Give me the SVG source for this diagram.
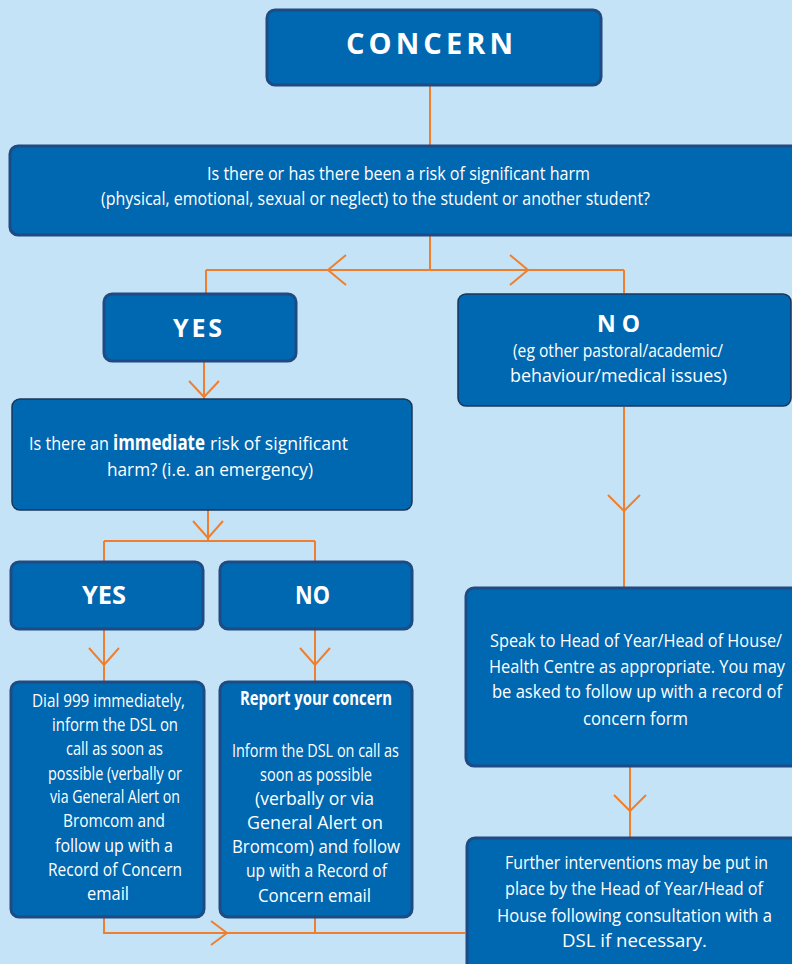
<svg xmlns="http://www.w3.org/2000/svg" width="792" height="964" viewBox="0 0 792 964">
<defs>
<style>
.box{fill:#0067B1;stroke:#1F4B85;stroke-width:3}
.thin{fill:#0067B1;stroke:#1C3658;stroke-width:1.5}
.t{font-family:"Open Sans","Liberation Sans",sans-serif;fill:#FFFFFF;font-size:19px}
.h{font-family:"Open Sans","Liberation Sans",sans-serif;fill:#FFFFFF;font-weight:bold}
.c{fill:none;stroke:#F07F2D;stroke-width:2}
</style>
</defs>
<rect x="0" y="0" width="792" height="964" fill="#C5E3F6"/>
<g id="connectors" class="c">
<path d="M430 86V145"/>
<path d="M430 236V270M206 270H624M206 270V293M624 270V293"/>
<path d="M346 255L328 270L346 285M510 255L528 270L510 285"/>
<path d="M204 362V399M189 381L204 397L219 381"/>
<path d="M208 510V541M193 521L208 538L223 521M104 541H315M104 541V561M315 541V561"/>
<path d="M104 629V681M89 648L104 665L119 648"/>
<path d="M315 629V681M300 648L315 665L330 648"/>
<path d="M104 918V933H465M315 918V933M211 921L227 933L211 945"/>
<path d="M624 407V587M608 495L624 511L640 495"/>
<path d="M630 767V837M614 795L630 811L646 795"/>
</g>
<g id="concern">
<rect class="box" x="267" y="10" width="334" height="75" rx="8"/>
<text class="h" x="346" y="54" font-size="29" textLength="167" lengthAdjust="spacing">CONCERN</text>
</g>
<g id="question">
<rect class="box" x="10" y="146" width="800" height="89" rx="8"/>
<text class="t" x="207" y="180" font-size="21" textLength="383" lengthAdjust="spacingAndGlyphs">Is there or has there been a risk of significant harm</text>
<text class="t" x="101" y="205" font-size="21" textLength="549" lengthAdjust="spacingAndGlyphs">(physical, emotional, sexual or neglect) to the student or another student?</text>
</g>
<g id="yes1">
<rect class="box" x="104" y="294" width="192" height="67" rx="8"/>
<text class="h" x="173" y="337" font-size="25" textLength="49" lengthAdjust="spacing">YES</text>
</g>
<g id="no1">
<rect class="thin" x="458" y="294" width="333" height="112" rx="8"/>
<text class="h" x="597" y="332" font-size="23" textLength="43" lengthAdjust="spacing">N O</text>
<text class="t" x="513" y="357" textLength="210" lengthAdjust="spacingAndGlyphs">(eg other pastoral/academic/</text>
<text class="t" x="510" y="382" textLength="217" lengthAdjust="spacingAndGlyphs">behaviour/medical issues)</text>
</g>
<g id="immediate">
<rect class="thin" x="12" y="399" width="400" height="111" rx="8"/>
<text class="t" x="29" y="450" font-size="21" textLength="80" lengthAdjust="spacingAndGlyphs">Is there an</text>
<text class="h" x="113" y="450" font-size="21" textLength="92" lengthAdjust="spacingAndGlyphs">immediate</text>
<text class="t" x="210" y="450" font-size="21" textLength="138" lengthAdjust="spacingAndGlyphs">risk of significant</text>
<text class="t" x="107" y="476" font-size="21" textLength="206" lengthAdjust="spacingAndGlyphs">harm? (i.e. an emergency)</text>
</g>
<g id="yes2">
<rect class="box" x="11" y="562" width="192" height="67" rx="8"/>
<text class="h" x="82" y="604" font-size="25" textLength="44" lengthAdjust="spacingAndGlyphs">YES</text>
</g>
<g id="no2">
<rect class="box" x="220" y="562" width="192" height="67" rx="8"/>
<text class="h" x="295" y="604" font-size="25" textLength="35" lengthAdjust="spacingAndGlyphs">NO</text>
</g>
<g id="dial">
<rect class="box" x="11" y="682" width="193" height="235" rx="8"/>
<text class="t" x="32" y="707" textLength="153" lengthAdjust="spacingAndGlyphs">Dial 999 immediately,</text>
<text class="t" x="52" y="731" textLength="126" lengthAdjust="spacingAndGlyphs">inform the DSL on</text>
<text class="t" x="66" y="755" textLength="97" lengthAdjust="spacingAndGlyphs">call as soon as</text>
<text class="t" x="48" y="780" textLength="134" lengthAdjust="spacingAndGlyphs">possible (verbally or</text>
<text class="t" x="50" y="803" textLength="130" lengthAdjust="spacingAndGlyphs">via General Alert on</text>
<text class="t" x="63" y="827" textLength="102" lengthAdjust="spacingAndGlyphs">Bromcom and</text>
<text class="t" x="55" y="852" textLength="118" lengthAdjust="spacingAndGlyphs">follow up with a</text>
<text class="t" x="48" y="876" textLength="134" lengthAdjust="spacingAndGlyphs">Record of Concern</text>
<text class="t" x="87" y="900" textLength="42" lengthAdjust="spacingAndGlyphs">email</text>
</g>
<g id="report">
<rect class="box" x="220" y="682" width="192" height="235" rx="8"/>
<text class="h" x="240" y="705" font-size="19" textLength="152" lengthAdjust="spacingAndGlyphs">Report your concern</text>
<text class="t" x="232" y="757" textLength="167" lengthAdjust="spacingAndGlyphs">Inform the DSL on call as</text>
<text class="t" x="260" y="781" textLength="112" lengthAdjust="spacingAndGlyphs">soon as possible</text>
<text class="t" x="255" y="805" textLength="119" lengthAdjust="spacingAndGlyphs">(verbally or via</text>
<text class="t" x="247" y="829" textLength="136" lengthAdjust="spacingAndGlyphs">General Alert on</text>
<text class="t" x="232" y="853" textLength="168" lengthAdjust="spacingAndGlyphs">Bromcom) and follow</text>
<text class="t" x="246" y="877" textLength="141" lengthAdjust="spacingAndGlyphs">up with a Record of</text>
<text class="t" x="258" y="902" textLength="113" lengthAdjust="spacingAndGlyphs">Concern email</text>
</g>
<g id="speak">
<rect class="box" x="466" y="588" width="340" height="178" rx="8"/>
<text class="t" x="490" y="647" font-size="20" textLength="292" lengthAdjust="spacingAndGlyphs">Speak to Head of Year/Head of House/</text>
<text class="t" x="489" y="673" font-size="20" textLength="296" lengthAdjust="spacingAndGlyphs">Health Centre as appropriate.  You may</text>
<text class="t" x="492" y="698" font-size="20" textLength="290" lengthAdjust="spacingAndGlyphs">be asked to follow up with a record of</text>
<text class="t" x="583" y="725" font-size="20" textLength="105" lengthAdjust="spacingAndGlyphs">concern form</text>
</g>
<g id="further">
<rect class="box" x="467" y="838" width="340" height="140" rx="8"/>
<text class="t" x="505" y="869" font-size="20" textLength="263" lengthAdjust="spacingAndGlyphs">Further interventions may be put in</text>
<text class="t" x="505" y="895" font-size="20" textLength="258" lengthAdjust="spacingAndGlyphs">place by the Head of Year/Head of</text>
<text class="t" x="497" y="922" font-size="20" textLength="275" lengthAdjust="spacingAndGlyphs">House following consultation with a</text>
<text class="t" x="562" y="947" font-size="20" textLength="145" lengthAdjust="spacingAndGlyphs">DSL if necessary.</text>
</g>
</svg>
